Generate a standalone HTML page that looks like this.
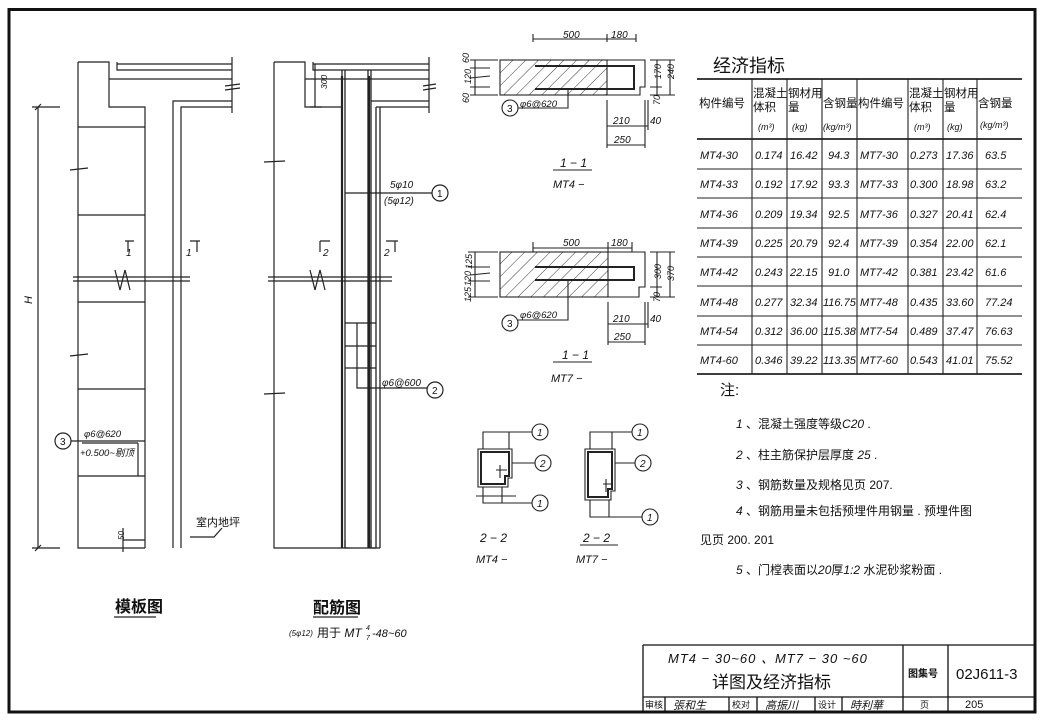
<!DOCTYPE html>
<html><head><meta charset="utf-8"><style>
html,body{margin:0;padding:0;background:#fff;}
svg{display:block;}
text{font-family:"Liberation Sans","Noto Sans CJK SC",sans-serif;fill:#111;}
.i{font-style:italic;}
</style></head><body>
<svg width="1042" height="724" viewBox="0 0 1042 724" xmlns="http://www.w3.org/2000/svg">
<defs>
<pattern id="h" width="9" height="9" patternUnits="userSpaceOnUse" patternTransform="rotate(45)">
<line x1="0" y1="0" x2="0" y2="9" stroke="#222" stroke-width="0.9"/></pattern>
</defs>
<g fill="none" stroke="#111">
<rect x="9" y="9.5" width="1026" height="702.5" stroke-width="3"/>
<path d="M643 645 H1035 M643 697 H1035 M903 645 V712 M948 645 V712 M665 697 V712 M729 697 V712 M757 697 V712 M815 697 V712 M842 697 V712 M643 645 V712" stroke-width="1.3"/>
</g>
<text x="668" y="663" class="i" font-size="13" letter-spacing="1">MT4 − 30~60 、MT7 − 30 ~60</text>
<text x="712" y="688" font-size="17">详图及经济指标</text>
<text x="908" y="677" font-size="10" font-weight="bold">图集号</text>
<text x="956" y="679" font-size="15" font-family="Liberation Serif">02J611-3</text>
<text x="645" y="708" font-size="9">审核</text>
<text x="673" y="709" font-size="11" class="i">張和生</text>
<text x="732" y="708" font-size="9">校对</text>
<text x="765" y="709" font-size="11" class="i">高振川</text>
<text x="818" y="708" font-size="9">设计</text>
<text x="850" y="709" font-size="11" class="i">時利華</text>
<text x="920" y="708" font-size="9">页</text>
<text x="965" y="708" font-size="11" font-family="Liberation Serif">205</text>

<g fill="none" stroke="#222" stroke-width="1.2">
<path d="M78 62 V548 H145 M78 62 H109 V107 H145 V548"/>
<path d="M117 62 V70 H232 M117 64 H232 M109 79 H232 M173 548 V101 H232 M181 548 V107 H232 M232 57 V113"/>
<path d="M225 86 L240 84 M225 90 L240 88"/>
<path d="M78 127 H145 M78 215 H145 M78 302 H145 M78 389 H145 M78 476 H145 M138 443 V476 M82 443 H138"/>
<path d="M73 277 H190 M73 281 H190 M115 270 L120 290 L125 270 L130 290"/>
<path d="M125 241 H134 M128 241 V252 M190 241 H200 M197 241 V252"/>
<path d="M38 107 V548 M32 107 H60 M32 548 H60 M35 110 L41 104 M35 551 L41 545"/>
<path d="M70 170 L88 168 M70 356 L88 354"/>
<path d="M123 528 V552 M123 540 H145"/>
<path d="M190 537 H214 L222 528"/>
<circle cx="63" cy="441" r="8"/>
<path d="M71 441 H145"/>
</g>
<text x="28" y="300" class="i" font-size="11" transform="rotate(-90 32 300)">H</text>
<text x="126" y="256" class="i" font-size="10">1</text>
<text x="186" y="256" class="i" font-size="10">1</text>
<text x="60" y="445" font-size="10">3</text>
<text x="84" y="437" class="i" font-size="9.5">φ6@620</text>
<text x="80" y="456" class="i" font-size="9.5">+0.500~剔顶</text>
<text x="118" y="540" class="i" font-size="8" transform="rotate(-90 121 537)">50</text>
<text x="196" y="526" font-size="11">室内地坪</text>
<text x="115" y="612" font-size="16" font-weight="bold">模板图</text>
<path d="M114 617 H156" stroke="#222" stroke-width="1.2"/>

<g fill="none" stroke="#222" stroke-width="1.2">
<path d="M274 62 V548 H380 M274 62 H305 V107 H342"/>
<path d="M313 62 V70 H429 M313 64 H429 M305 79 H429 M371 101 H429 M376 107 H429 M429 57 V113 M423 86 L436 84 M423 90 L436 88"/>
<path d="M315 64 V107 M310 107 H322"/>
<path d="M342 70 V548 M345 70 V548 M368 70 V548 M371 70 V548 M376 107 V548 M380 107 V548" stroke-width="1.3"/>
<path d="M342 76 V548 M369 76 V548" stroke-width="2.2"/>
<path d="M268 277 H392 M268 281 H392 M310 270 L315 290 L320 270 L325 290"/>
<path d="M320 241 V252 M320 241 H330 M386 241 H398 M395 241 V252"/>
<path d="M264 162 L285 161 M264 394 L285 393"/>
<path d="M345 193 H432"/>
<circle cx="440" cy="193" r="8"/>
<path d="M345 323 H376 M345 346 H376 M345 368 H376 M357 323 V388 H427"/>
<circle cx="435" cy="390" r="8"/>
<path d="M345 540 L345 548 H350 M371 540 V548 H376"/>
</g>
<text x="310" y="100" class="i" font-size="8.5" transform="rotate(-90 313 86)">300</text>
<text x="390" y="188" class="i" font-size="10">5φ10</text>
<text x="384" y="204" class="i" font-size="10">(5φ12)</text>
<text x="437" y="197" font-size="10">1</text>
<text x="323" y="256" class="i" font-size="10">2</text>
<text x="384" y="256" class="i" font-size="10">2</text>
<text x="382" y="386" class="i" font-size="10">φ6@600</text>
<text x="432" y="394" font-size="10">2</text>
<text x="313" y="613" font-size="16" font-weight="bold">配筋图</text>
<path d="M313 617 H358" stroke="#222" stroke-width="1.2"/>
<text x="289" y="636" class="i" font-size="8">(5φ12)</text>
<text x="317" y="637" font-size="12">用于 <tspan class="i">MT</tspan></text>
<text x="366" y="630" class="i" font-size="7">4</text>
<text x="366" y="640" class="i" font-size="7">7</text>
<text x="372" y="637" class="i" font-size="11">-48~60</text>

<g fill="none" stroke="#222" stroke-width="1.1">
<rect x="500" y="60" width="107" height="35" fill="url(#h)"/>
<path d="M607 60 H645 V87 H640 V95 H607"/>
<path d="M535 66 H634 V89 H535" stroke-width="2"/>
<path d="M533 34 V42 M533 39 H636 M607 34 V42 M636 34 V42"/>
<path d="M475 60 V95 M470 60 H498 M470 68 H490 M470 87 H490 M470 95 H498 M470 78 L490 76"/>
<path d="M657 60 V95 M670 60 V95 M650 60 H675 M650 87 H662 M650 95 H675"/>
<path d="M607 100 V148 M645 100 V148 M648 100 V130 M607 126 H648 M607 145 H645"/>
<circle cx="510" cy="108" r="8"/>
<path d="M518 108 H568 V89"/>
<path d="M553 170 H592"/>
</g>
<text x="563" y="38" class="i" font-size="10">500</text>
<text x="611" y="38" class="i" font-size="10">180</text>
<text x="463" y="103" class="i" font-size="9" transform="rotate(-90 466 100)">60</text>
<text x="460" y="83" class="i" font-size="9" transform="rotate(-90 466 78)">120</text>
<text x="463" y="63" class="i" font-size="9" transform="rotate(-90 466 60)">60</text>
<text x="650" y="80" class="i" font-size="9" transform="rotate(-90 655 74)">170</text>
<text x="663" y="80" class="i" font-size="9" transform="rotate(-90 668 74)">240</text>
<text x="650" y="105" class="i" font-size="9" transform="rotate(-90 655 100)">70</text>
<text x="507" y="112" font-size="10">3</text>
<text x="520" y="107" class="i" font-size="9.5">φ6@620</text>
<text x="613" y="124" class="i" font-size="10">210</text>
<text x="650" y="124" class="i" font-size="10">40</text>
<text x="614" y="143" class="i" font-size="10">250</text>
<text x="560" y="167" class="i" font-size="12">1 − 1</text>
<text x="553" y="188" class="i" font-size="11">MT4 −</text>

<g fill="none" stroke="#222" stroke-width="1.1">
<rect x="500" y="252" width="108" height="45" fill="url(#h)"/>
<path d="M608 252 H645 V287 H639 V297 H608"/>
<path d="M535 267 H634 V280 H535" stroke-width="2"/>
<path d="M533 242 V252 M533 248 H632 M608 242 V252 M632 242 V252"/>
<path d="M475 252 V297 M468 252 H498 M468 267 H490 M468 281 H490 M468 297 H498 M470 275 L490 273"/>
<path d="M657 252 V297 M670 252 V297 M650 252 H675 M650 287 H662 M650 297 H675"/>
<path d="M608 302 V345 M645 302 V345 M648 302 V328 M608 324 H648 M608 342 H645"/>
<circle cx="510" cy="323" r="8"/>
<path d="M518 320 H568 V280"/>
<path d="M553 362 H592"/>
</g>
<text x="563" y="246" class="i" font-size="10">500</text>
<text x="611" y="246" class="i" font-size="10">180</text>
<text x="459" y="300" class="i" font-size="9" transform="rotate(-90 466 295)">125</text>
<text x="459" y="284" class="i" font-size="9" transform="rotate(-90 466 279)">120</text>
<text x="459" y="268" class="i" font-size="9" transform="rotate(-90 466 262)">125</text>
<text x="650" y="280" class="i" font-size="9" transform="rotate(-90 655 274)">300</text>
<text x="663" y="282" class="i" font-size="9" transform="rotate(-90 668 276)">370</text>
<text x="650" y="302" class="i" font-size="9" transform="rotate(-90 655 297)">70</text>
<text x="507" y="327" font-size="10">3</text>
<text x="520" y="318" class="i" font-size="9.5">φ6@620</text>
<text x="613" y="322" class="i" font-size="10">210</text>
<text x="650" y="322" class="i" font-size="10">40</text>
<text x="614" y="340" class="i" font-size="10">250</text>
<text x="562" y="359" class="i" font-size="12">1 − 1</text>
<text x="551" y="382" class="i" font-size="11">MT7 −</text>

<g fill="none" stroke="#222" stroke-width="1.1">
<path d="M478 449 H512 V478 H508 V487 H478 Z"/>
<path d="M481 452 H509 V476 H505 V484 H481 Z" stroke-width="2"/>
<path d="M483 449 V432 H532 M509 449 V432 M512 463 H535 M483 487 V503 H532 M502 487 V503"/>
<circle cx="540" cy="432" r="8"/><circle cx="543" cy="463" r="8"/><circle cx="540" cy="503" r="8"/>
<path d="M496 470 H507 M500 465 V478"/>
<path d="M476 496 H516"/>
<path d="M585 449 H615 V491 H611 V500 H585 Z"/>
<path d="M588 452 H612 V489 H608 V497 H588 Z" stroke-width="2"/>
<path d="M590 449 V432 H632 M612 449 V432 M615 463 H635 M590 500 V517 H642 M609 500 V517"/>
<circle cx="640" cy="432" r="8"/><circle cx="643" cy="463" r="8"/><circle cx="650" cy="517" r="8"/>
<path d="M603 484 H613 M606 479 V492"/>
<path d="M580 545 H618"/>
</g>
<text x="537" y="436" class="i" font-size="10">1</text>
<text x="540" y="467" class="i" font-size="10">2</text>
<text x="537" y="507" class="i" font-size="10">1</text>
<text x="637" y="436" class="i" font-size="10">1</text>
<text x="640" y="467" class="i" font-size="10">2</text>
<text x="647" y="521" class="i" font-size="10">1</text>
<text x="480" y="542" class="i" font-size="12">2 − 2</text>
<text x="476" y="563" class="i" font-size="11">MT4 −</text>
<text x="583" y="542" class="i" font-size="12">2 − 2</text>
<text x="576" y="563" class="i" font-size="11">MT7 −</text>

<text x="720" y="395" font-size="15">注:</text>
<text x="736" y="428" font-size="12"><tspan class="i">1</tspan> 、混凝土强度等级<tspan class="i">C20</tspan> .</text>
<text x="736" y="459" font-size="12"><tspan class="i">2</tspan> 、柱主筋保护层厚度 <tspan class="i">25</tspan> .</text>
<text x="736" y="489" font-size="12"><tspan class="i">3</tspan> 、钢筋数量及规格见页 207.</text>
<text x="736" y="515" font-size="12"><tspan class="i">4</tspan> 、钢筋用量未包括预埋件用钢量 . 预埋件图</text>
<text x="700" y="544" font-size="12">见页 200. 201</text>
<text x="736" y="574" font-size="12"><tspan class="i">5</tspan> 、门樘表面以<tspan class="i">20</tspan>厚<tspan class="i">1:2</tspan> 水泥砂浆粉面 .</text>

<text x="713" y="72" font-size="18">经济指标</text>
<g fill="none" stroke="#222" stroke-width="1.1">
<path d="M697 79 H1022" stroke-width="1.8"/>
<path d="M697 139 H1022" stroke-width="1.8"/>
<path d="M697 169 H1022 M697 198 H1022 M697 228 H1022 M697 257 H1022 M697 286 H1022 M697 316 H1022 M697 345 H1022"/>
<path d="M697 374 H1022" stroke-width="1.8"/>
<path d="M752 79 V374 M787 79 V374 M822 79 V374 M857 79 V374 M908 79 V374 M943 79 V374 M977 79 V374"/>
</g>
<g font-size="11.5">
<text x="699" y="107">构件编号</text>
<text x="753" y="97">混凝土</text><text x="753" y="111">体积</text>
<text x="788" y="97">钢材用</text><text x="788" y="111">量</text>
<text x="823" y="107">含钢量</text>
<text x="858" y="107">构件编号</text>
<text x="909" y="97">混凝土</text><text x="909" y="111">体积</text>
<text x="944" y="97">钢材用</text><text x="944" y="111">量</text>
<text x="978" y="107">含钢量</text>
</g>
<g font-size="9" class="i">
<text x="758" y="130">(m³)</text><text x="792" y="130">(kg)</text><text x="823" y="130">(kg/m³)</text>
<text x="914" y="130">(m³)</text><text x="947" y="130">(kg)</text><text x="980" y="128">(kg/m³)</text>
</g>
<g font-size="11" class="i">
<text x="700" y="159">MT4-30</text><text x="755" y="159">0.174</text><text x="790" y="159">16.42</text><text x="828" y="159">94.3</text><text x="860" y="159">MT7-30</text><text x="910" y="159">0.273</text><text x="946" y="159">17.36</text><text x="985" y="159">63.5</text>
<text x="700" y="188">MT4-33</text><text x="755" y="188">0.192</text><text x="790" y="188">17.92</text><text x="828" y="188">93.3</text><text x="860" y="188">MT7-33</text><text x="910" y="188">0.300</text><text x="946" y="188">18.98</text><text x="985" y="188">63.2</text>
<text x="700" y="218">MT4-36</text><text x="755" y="218">0.209</text><text x="790" y="218">19.34</text><text x="828" y="218">92.5</text><text x="860" y="218">MT7-36</text><text x="910" y="218">0.327</text><text x="946" y="218">20.41</text><text x="985" y="218">62.4</text>
<text x="700" y="247">MT4-39</text><text x="755" y="247">0.225</text><text x="790" y="247">20.79</text><text x="828" y="247">92.4</text><text x="860" y="247">MT7-39</text><text x="910" y="247">0.354</text><text x="946" y="247">22.00</text><text x="985" y="247">62.1</text>
<text x="700" y="276">MT4-42</text><text x="755" y="276">0.243</text><text x="790" y="276">22.15</text><text x="828" y="276">91.0</text><text x="860" y="276">MT7-42</text><text x="910" y="276">0.381</text><text x="946" y="276">23.42</text><text x="985" y="276">61.6</text>
<text x="700" y="306">MT4-48</text><text x="755" y="306">0.277</text><text x="790" y="306">32.34</text><text x="823" y="306">116.75</text><text x="860" y="306">MT7-48</text><text x="910" y="306">0.435</text><text x="946" y="306">33.60</text><text x="985" y="306">77.24</text>
<text x="700" y="335">MT4-54</text><text x="755" y="335">0.312</text><text x="790" y="335">36.00</text><text x="823" y="335">115.38</text><text x="860" y="335">MT7-54</text><text x="910" y="335">0.489</text><text x="946" y="335">37.47</text><text x="985" y="335">76.63</text>
<text x="700" y="364">MT4-60</text><text x="755" y="364">0.346</text><text x="790" y="364">39.22</text><text x="823" y="364">113.35</text><text x="860" y="364">MT7-60</text><text x="910" y="364">0.543</text><text x="946" y="364">41.01</text><text x="985" y="364">75.52</text>
</g>
</svg>
</body></html>
